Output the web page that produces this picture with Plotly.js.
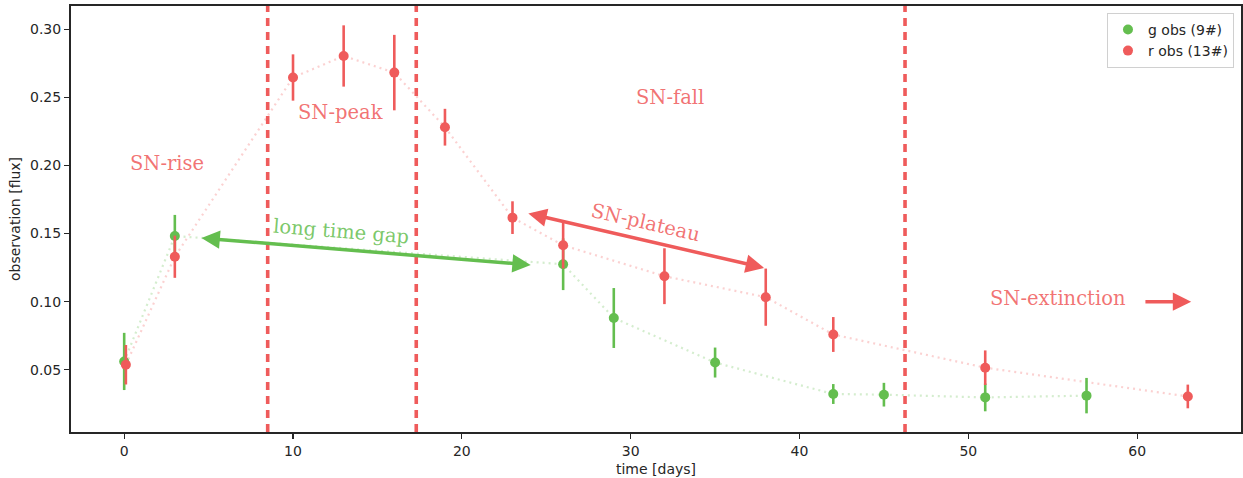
<!DOCTYPE html>
<html>
<head>
<meta charset="utf-8">
<script src="https://cdn.plot.ly/plotly-3.0.1.min.js"></script>
<style>
  html, body { margin: 0; padding: 0; background: #fff; }
  #chart { width: 1243px; height: 478px; }
</style>
</head>
<body>
<div id="chart"></div>
<script>
// ---- data ----
const gTime = [0, 3, 26, 29, 35, 42, 45, 51, 57];
const gFlux = [0.0561, 0.1482, 0.1275, 0.088, 0.0553, 0.0322, 0.0317, 0.0297, 0.031];
const gErr  = [0.021, 0.0155, 0.019, 0.022, 0.011, 0.0073, 0.0087, 0.0102, 0.013];

const rTime = [0.1, 3, 10, 13, 16, 19, 23, 26, 32, 38, 42, 51, 63];
const rFlux = [0.0537, 0.133, 0.2646, 0.2804, 0.2682, 0.2281, 0.1617, 0.1414, 0.1187, 0.1033, 0.0759, 0.0515, 0.0304];
const rErr  = [0.0145, 0.0155, 0.017, 0.0225, 0.0277, 0.0135, 0.012, 0.017, 0.0205, 0.021, 0.0128, 0.0127, 0.0087];

const phaseBounds = [8.5, 17.3, 46.25];
const legendNames = ['g obs (9#)', 'r obs (13#)'];

const RED = '#EF5B5B';
const GREEN = '#64BE4F';
const RED_T = 'rgba(239,91,91,0.85)';
const GREEN_T = 'rgba(100,190,79,0.85)';

const traces = [
  { x: gTime, y: gFlux, mode: 'lines', showlegend: false, hoverinfo: 'skip',
    line: { color: 'rgba(100,190,79,0.28)', width: 2.2, dash: '2px,4px' } },
  { x: rTime, y: rFlux, mode: 'lines', showlegend: false, hoverinfo: 'skip',
    line: { color: 'rgba(239,91,91,0.28)', width: 2.2, dash: '2px,4px' } },
  { x: gTime, y: gFlux, mode: 'markers', name: legendNames[0],
    marker: { color: GREEN, size: 10 },
    error_y: { type: 'data', array: gErr, visible: true, color: GREEN, thickness: 2.6, width: 0 } },
  { x: rTime, y: rFlux, mode: 'markers', name: legendNames[1],
    marker: { color: RED, size: 10 },
    error_y: { type: 'data', array: rErr, visible: true, color: RED, thickness: 2.6, width: 0 } }
];

const shapes = phaseBounds.map(b => ({
  type: 'line', xref: 'x', yref: 'paper', x0: b, x1: b, y0: 0, y1: 1,
  line: { color: RED, width: 3.6, dash: '8px,6px' }
}));

const serif = 'DejaVu Serif';
const fs = 19.5;
const AS = 1.05;
const annotations = [
  { x: 2.54, y: 0.2018, text: 'SN-rise', showarrow: false, font: { family: serif, size: fs, color: RED_T } },
  { x: 12.8, y: 0.239, text: 'SN-peak', showarrow: false, font: { family: serif, size: fs, color: RED_T } },
  { x: 32.3, y: 0.250, text: 'SN-fall', showarrow: false, font: { family: serif, size: fs, color: RED_T } },
  { x: 55.3, y: 0.102, text: 'SN-extinction', showarrow: false, font: { family: serif, size: fs, color: RED_T } },
  { x: 12.87, y: 0.1512, text: 'long time gap', showarrow: false, textangle: 4.6, font: { family: serif, size: fs, color: GREEN_T } },
  { x: 30.87, y: 0.1578, text: 'SN-plateau', showarrow: false, textangle: 13, font: { family: serif, size: fs, color: RED_T } },
  // arrows
  { x: 63.2, y: 0.1, ax: 60.4, ay: 0.1, axref: 'x', ayref: 'y', text: '', showarrow: true,
    arrowhead: 2, arrowsize: AS, arrowwidth: 3.5, arrowcolor: RED, standoff: 0 },
  { x: 24.08, y: 0.127, ax: 4.49, ay: 0.1468, axref: 'x', ayref: 'y', text: '', showarrow: true,
    arrowhead: 2, startarrowhead: 2, arrowside: 'end+start', arrowsize: AS, startarrowsize: AS,
    arrowwidth: 3.5, arrowcolor: GREEN, standoff: 0, startstandoff: 0 },
  { x: 37.9, y: 0.1248, ax: 23.85, ay: 0.165, axref: 'x', ayref: 'y', text: '', showarrow: true,
    arrowhead: 2, startarrowhead: 2, arrowside: 'end+start', arrowsize: AS, startarrowsize: AS,
    arrowwidth: 3.5, arrowcolor: RED, standoff: 0, startstandoff: 0 }
];

const axisCommon = {
  showgrid: false, zeroline: false, showline: true, mirror: true,
  linecolor: '#262626', linewidth: 2,
  ticks: 'outside', ticklen: 5, tickwidth: 1.2, tickcolor: '#262626',
  tickfont: { family: 'DejaVu Sans', size: 14, color: '#262626' }
};

const layout = {
  width: 1243, height: 478,
  margin: { l: 71, r: 2, t: 6, b: 46 },
  paper_bgcolor: '#fff', plot_bgcolor: '#fff',
  font: { family: 'DejaVu Sans', size: 14, color: '#262626' },
  xaxis: Object.assign({}, axisCommon, {
    range: [-3.15, 66.15], tickvals: [0, 10, 20, 30, 40, 50, 60],
    title: { text: 'time [days]', font: { family: 'DejaVu Sans', size: 14, color: '#262626' }, standoff: 6 }
  }),
  yaxis: Object.assign({}, axisCommon, {
    range: [0.0043, 0.3171], tickvals: [0.05, 0.10, 0.15, 0.20, 0.25, 0.30], tickformat: '.2f',
    title: { text: 'observation [flux]', font: { family: 'DejaVu Sans', size: 14, color: '#262626' }, standoff: 6 }
  }),
  legend: {
    x: 0.994, y: 0.984, xanchor: 'right', yanchor: 'top',
    bgcolor: 'rgba(255,255,255,0.9)', bordercolor: '#d0d0d0', borderwidth: 1,
    font: { family: 'DejaVu Sans', size: 14, color: '#262626' }
  },
  shapes: shapes,
  annotations: annotations,
  showlegend: true
};

Plotly.newPlot('chart', traces, layout, { displayModeBar: false, staticPlot: true });
</script>
</body>
</html>
